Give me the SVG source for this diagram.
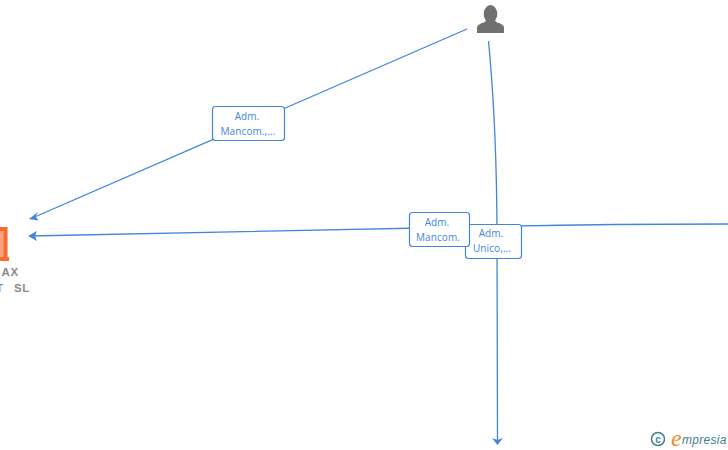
<svg xmlns="http://www.w3.org/2000/svg" width="728" height="450" viewBox="0 0 728 450">
<style>
.e{fill:none;stroke:#4285dc;stroke-width:1.3}
.b{fill:#fff;stroke:#4285dc;stroke-width:1.2}
.l{font:10px "Open Sans","Liberation Sans",Arial,sans-serif;fill:#4285dc;text-anchor:middle;letter-spacing:.1px}
.n{font:bold 11.500px "Liberation Sans",Arial,sans-serif;fill:#8a8a8a;letter-spacing:.6px}
</style>
<rect width="728" height="450" fill="#fff"/>
<g id="connectors">
<path class="e" d="M467 29L30 219"/>
<path d="M29 219L38 212L35.500 216.500L38.500 220.500Z" fill="#4285dc"/>
<path class="e" d="M728 224Q590 224 470 227L30 236"/>
<path d="M28 236L37 231L35 236L37 241Z" fill="#4285dc"/>
<path class="e" d="M488.500 41Q497 130 497 240L497.500 440"/>
<path d="M497.500 445L492 438L497.500 440L503 438Z" fill="#4285dc"/>
</g>
<g id="node-person">
<ellipse cx="490.500" cy="14" rx="6.800" ry="9" fill="#707070"/>
<path d="M477 33V27Q478 24 484 22.500L487 20H494L497 22.500Q503 24 504 27V33Z" fill="#707070"/>
</g>
<g id="node-company">
<rect x="0" y="227" width="4" height="30" fill="#fca27f"/>
<path d="M0 227H7.500V257H9V261H0V257H3.500V231H0Z" fill="#fb6a31"/>
<text class="n" x="1.500" y="276">AX</text>
<text class="n" x="-4" y="292">T</text>
<text class="n" x="14" y="292">SL</text>
</g>
<g id="label-1">
<rect class="b" x="212.500" y="106.500" width="72" height="34" rx="3"/>
<text class="l" x="247" y="120">Adm.</text>
<text class="l" x="248" y="135">Mancom.,...</text>
</g>
<g id="label-3">
<rect class="b" x="465.500" y="224.500" width="56" height="34" rx="3"/>
<text class="l" x="491" y="237">Adm.</text>
<text class="l" x="492" y="252">Unico,...</text>
</g>
<g id="label-2">
<rect class="b" x="409.500" y="212.500" width="60" height="34" rx="3"/>
<text class="l" x="437" y="226">Adm.</text>
<text class="l" x="438" y="241">Mancom.</text>
</g>
<g id="logo">
<circle cx="658" cy="439" r="6.500" fill="none" stroke="#3d7f93" stroke-width="1.500"/>
<text x="658" y="442.500" font-family="Liberation Sans,sans-serif" font-weight="bold" font-size="10" fill="#3d7f93" text-anchor="middle">c</text>
<text x="671" y="446" font-family="Liberation Serif,serif" font-style="italic" font-size="24" fill="#f08a1d">e</text>
<text x="682" y="444" font-family="Liberation Sans,sans-serif" font-style="italic" font-size="12" letter-spacing=".3" fill="#3d7f93">mpresia</text>
</g>
</svg>
